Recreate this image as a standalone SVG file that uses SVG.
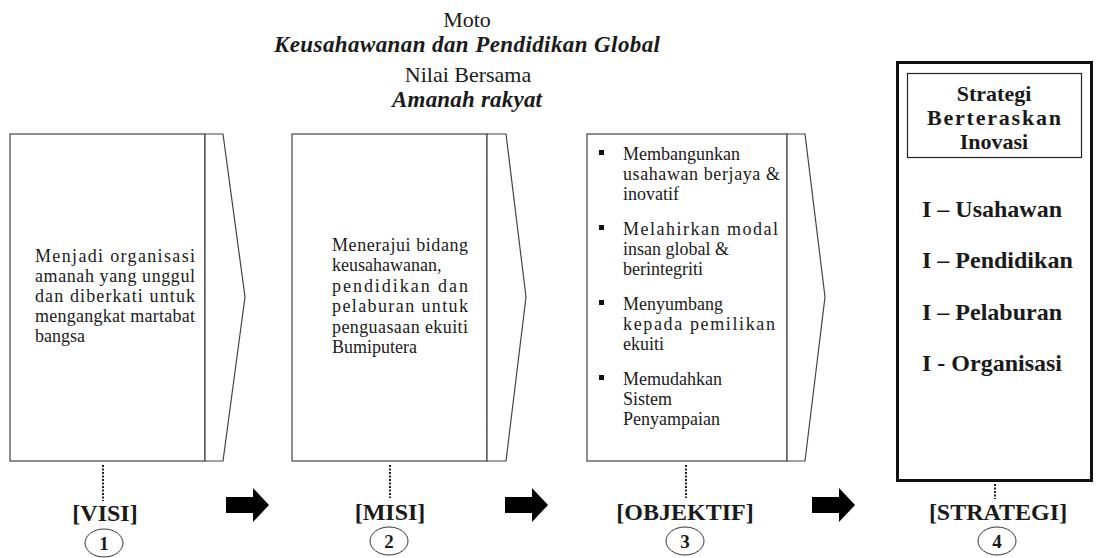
<svg xmlns="http://www.w3.org/2000/svg" width="1103" height="558" viewBox="0 0 1103 558">
<style>
  .t { font-family: "Liberation Serif", "Times New Roman", serif; fill: #1a1a1a; }
  .hd { font-size: 22px; text-anchor: middle; }
  .hdb { font-size: 23px; font-weight: bold; font-style: italic; }
  .body { font-size: 18px; }
  .box { fill: #fff; stroke: #444; stroke-width: 1.2; }
  .sb { font-size: 22px; font-weight: bold; text-anchor: middle; }
  .si { font-size: 24px; font-weight: bold; }
  .lab { font-size: 24px; font-weight: bold; text-anchor: middle; }
  .num { font-size: 19px; font-weight: bold; text-anchor: middle; }
  .circ { fill: #fff; stroke: #333; stroke-width: 1; }
  .dot { stroke: #222; stroke-width: 2; stroke-dasharray: 2 1.5; fill: none; }
  .arr { fill: #000; }
  .bul { fill: #111; }
</style>
<defs>
  <path id="arrowShape" d="M0,-8 H27 V-17 L43,0 L27,17 V8 H0 Z"/>
</defs>

<g id="header">
  <text class="t hd" x="467" y="27">Moto</text>
  <text class="t hdb" x="274" y="52" textLength="386" lengthAdjust="spacing">Keusahawanan dan Pendidikan Global</text>
  <text class="t hd" x="468" y="82">Nilai Bersama</text>
  <text class="t hdb" x="392" y="107" textLength="150" lengthAdjust="spacing">Amanah rakyat</text>
</g>

<g id="visi">
  <rect class="box" x="10" y="134" width="195" height="327"/>
  <polygon class="box" points="205,134 223,134 245,297 223,461 205,461"/>
  <text class="t body" x="35" y="262" textLength="160" lengthAdjust="spacing">Menjadi organisasi</text>
  <text class="t body" x="35" y="282" textLength="160" lengthAdjust="spacing">amanah yang unggul</text>
  <text class="t body" x="35" y="302" textLength="160" lengthAdjust="spacing">dan diberkati untuk</text>
  <text class="t body" x="35" y="322" textLength="160" lengthAdjust="spacing">mengangkat martabat</text>
  <text class="t body" x="35" y="342">bangsa</text>
</g>

<g id="misi">
  <rect class="box" x="292" y="134" width="195" height="327"/>
  <polygon class="box" points="487,134 506,134 526,297 506,461 487,461"/>
  <text class="t body" x="332" y="251" textLength="136" lengthAdjust="spacing">Menerajui bidang</text>
  <text class="t body" x="332" y="271">keusahawanan,</text>
  <text class="t body" x="332" y="292" textLength="136" lengthAdjust="spacing">pendidikan dan</text>
  <text class="t body" x="332" y="312" textLength="136" lengthAdjust="spacing">pelaburan untuk</text>
  <text class="t body" x="332" y="333" textLength="136" lengthAdjust="spacing">penguasaan ekuiti</text>
  <text class="t body" x="332" y="353">Bumiputera</text>
</g>

<g id="objektif">
  <rect class="box" x="587" y="134" width="200" height="327"/>
  <polygon class="box" points="787,134 805,134 825,297 805,461 787,461"/>
  <rect class="bul" x="599" y="150" width="5" height="5"/>
  <text class="t body" x="623" y="160">Membangunkan</text>
  <text class="t body" x="623" y="180" textLength="157" lengthAdjust="spacing">usahawan berjaya &amp;</text>
  <text class="t body" x="623" y="200">inovatif</text>
  <rect class="bul" x="599" y="225" width="5" height="5"/>
  <text class="t body" x="623" y="235" textLength="155" lengthAdjust="spacing">Melahirkan modal</text>
  <text class="t body" x="623" y="255">insan global &amp;</text>
  <text class="t body" x="623" y="275">berintegriti</text>
  <rect class="bul" x="599" y="300" width="5" height="5"/>
  <text class="t body" x="623" y="310">Menyumbang</text>
  <text class="t body" x="623" y="330" textLength="152" lengthAdjust="spacing">kepada pemilikan</text>
  <text class="t body" x="623" y="350">ekuiti</text>
  <rect class="bul" x="599" y="375" width="5" height="5"/>
  <text class="t body" x="623" y="385">Memudahkan</text>
  <text class="t body" x="623" y="405">Sistem</text>
  <text class="t body" x="623" y="425">Penyampaian</text>
</g>

<g id="strategi">
  <rect x="897.5" y="62.5" width="194" height="418" fill="#fff" stroke="#111" stroke-width="3"/>
  <rect x="907.5" y="73.5" width="174" height="84" fill="#fff" stroke="#222" stroke-width="1.2"/>
  <text class="t sb" x="994" y="101">Strategi</text>
  <text class="t sb" x="994" y="125" textLength="134" lengthAdjust="spacing">Berteraskan</text>
  <text class="t sb" x="994" y="149">Inovasi</text>
  <text class="t si" x="922" y="217">I – Usahawan</text>
  <text class="t si" x="922" y="268">I – Pendidikan</text>
  <text class="t si" x="922" y="320">I – Pelaburan</text>
  <text class="t si" x="922" y="371">I - Organisasi</text>
</g>

<g id="label-visi">
  <text class="t lab" x="105" y="521">[VISI]</text>
  <ellipse class="circ" cx="104" cy="543" rx="19" ry="14"/>
  <text class="t num" x="104" y="550">1</text>
</g>
<g id="label-misi">
  <text class="t lab" x="390" y="520">[MISI]</text>
  <ellipse class="circ" cx="389" cy="541" rx="19" ry="14"/>
  <text class="t num" x="389" y="548">2</text>
</g>
<g id="label-objektif">
  <text class="t lab" x="685" y="520">[OBJEKTIF]</text>
  <ellipse class="circ" cx="685" cy="541" rx="19" ry="14"/>
  <text class="t num" x="685" y="548">3</text>
</g>
<g id="label-strategi">
  <text class="t lab" x="998" y="520">[STRATEGI]</text>
  <ellipse class="circ" cx="997" cy="541" rx="19" ry="14"/>
  <text class="t num" x="997" y="548">4</text>
</g>

<g id="connectors">
  <line class="dot" x1="103" y1="465" x2="103" y2="501"/>
  <line class="dot" x1="390" y1="465" x2="390" y2="498"/>
  <line class="dot" x1="686" y1="465" x2="686" y2="498"/>
  <line class="dot" x1="995" y1="484" x2="995" y2="499"/>
  <use href="#arrowShape" class="arr" x="226" y="505"/>
  <use href="#arrowShape" class="arr" x="505" y="505"/>
  <use href="#arrowShape" class="arr" x="812" y="505"/>
</g>
</svg>
